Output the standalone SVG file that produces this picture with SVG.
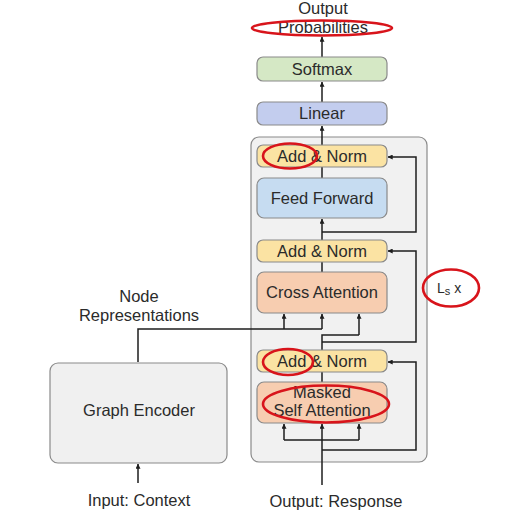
<svg xmlns="http://www.w3.org/2000/svg" width="512" height="512" viewBox="0 0 512 512">
  <style>
    text { font-family: "Liberation Sans", Arial, sans-serif; fill: #2b2b2b; }
    .lbl { font-size: 16.5px; text-anchor: middle; }
    .box { stroke: #8a8a8a; stroke-width: 1.2; }
    .norm { fill: #fbe3a3; }
    .att { fill: #f7cdb0; }
    .wire { fill: none; stroke: #1e1e1e; stroke-width: 1.5; }
    .arr { marker-end: url(#head); }
    .mark { fill: none; stroke: #d8141b; stroke-width: 2.6; }
  </style>
  <defs>
    <marker id="head" viewBox="0 0 8 8" refX="7.5" refY="4" markerWidth="5" markerHeight="5" orient="auto" markerUnits="userSpaceOnUse">
      <path d="M0,0 L8,4 L0,8 Z" fill="#1e1e1e"/>
    </marker>
  </defs>

  <rect width="512" height="512" fill="#ffffff"/>

  <!-- decoder stack container -->
  <g id="decoder-block">
    <rect x="251" y="137" width="176" height="325" rx="8" fill="#f1f1f1" stroke="#8a8a8a" stroke-width="1.2"/>
  </g>

  <!-- connectors -->
  <g id="connectors">
    <!-- main flow -->
    <path class="wire arr" d="M322,485 L322,424"/>
    <path class="wire arr" d="M284,440 L359,440 M284,440 L284,424"/>
    <path class="wire arr" d="M359,440 L359,424"/>
    <path class="wire" d="M322,382 L322,372"/>
    <path class="wire" d="M322,350 L322,335 L359,335"/>
    <path class="wire arr" d="M359,335 L359,314"/>
    <path class="wire" d="M322,272 L322,262"/>
    <path class="wire arr" d="M322,240 L322,219"/>
    <path class="wire" d="M322,178 L322,167"/>
    <path class="wire arr" d="M322,145 L322,126"/>
    <path class="wire arr" d="M322,102 L322,82"/>
    <path class="wire arr" d="M322,57 L322,37"/>
    <!-- node representations into cross attention -->
    <path class="wire" d="M138,362 L138,329 L322,329"/>
    <path class="wire arr" d="M284,329 L284,314"/>
    <path class="wire arr" d="M322,329 L322,314"/>
    <!-- input into graph encoder -->
    <path class="wire arr" d="M138,483 L138,464"/>
    <!-- residual connections -->
    <path class="wire arr" d="M322,450 L416,450 L416,362 L388,362"/>
    <path class="wire arr" d="M322,342 L416,342 L416,251 L388,251"/>
    <path class="wire arr" d="M322,232 L416,232 L416,157 L388,157"/>
  </g>

  <g id="output-probabilities">
    <text class="lbl" x="323" y="14">Output</text>
    <text class="lbl" x="323" y="33">Probabilities</text>
  </g>

  <g id="softmax">
    <rect class="box" x="257" y="57" width="130" height="24" rx="6" fill="#d5e8c5"/>
    <text class="lbl" x="322" y="75">Softmax</text>
  </g>

  <g id="linear">
    <rect class="box" x="257" y="102" width="130" height="23" rx="6" fill="#c3cdee"/>
    <text class="lbl" x="322" y="119">Linear</text>
  </g>

  <g id="add-norm-3">
    <rect class="box norm" x="257" y="145" width="130" height="22" rx="6"/>
    <text class="lbl" x="322" y="162">Add &amp; Norm</text>
  </g>

  <g id="feed-forward">
    <rect class="box" x="257" y="178" width="130" height="40" rx="7" fill="#c6dcf1"/>
    <text class="lbl" x="322" y="204">Feed Forward</text>
  </g>

  <g id="add-norm-2">
    <rect class="box norm" x="257" y="240" width="130" height="22" rx="6"/>
    <text class="lbl" x="322" y="257">Add &amp; Norm</text>
  </g>

  <g id="cross-attention">
    <rect class="box att" x="257" y="272" width="130" height="41" rx="7"/>
    <text class="lbl" x="322" y="298">Cross Attention</text>
  </g>

  <g id="add-norm-1">
    <rect class="box norm" x="257" y="350" width="130" height="22" rx="6"/>
    <text class="lbl" x="322" y="367">Add &amp; Norm</text>
  </g>

  <g id="masked-self-attention">
    <rect class="box att" x="257" y="382" width="130" height="41" rx="7"/>
    <text class="lbl" x="322" y="398">Masked</text>
    <text class="lbl" x="322" y="416">Self Attention</text>
  </g>

  <g id="graph-encoder">
    <rect x="50" y="363" width="177" height="100" rx="8" fill="#f0f0f0" stroke="#8a8a8a" stroke-width="1.2"/>
    <text class="lbl" x="139" y="416">Graph Encoder</text>
  </g>

  <g id="node-representations">
    <text class="lbl" x="139" y="302">Node</text>
    <text class="lbl" x="139" y="321">Representations</text>
  </g>

  <g id="input-context">
    <text class="lbl" x="139" y="506">Input: Context</text>
  </g>

  <g id="output-response">
    <text class="lbl" x="336" y="507">Output: Response</text>
  </g>

  <g id="layer-count">
    <text x="437" y="293" font-size="14">L<tspan font-size="11" dy="1.5">s</tspan><tspan dy="-1.5"> x</tspan></text>
  </g>

  <!-- highlight rings -->
  <g id="highlights">
    <ellipse class="mark" cx="322" cy="28" rx="70" ry="7.5"/>
    <ellipse class="mark" cx="290" cy="156" rx="27" ry="12.5"/>
    <ellipse class="mark" cx="451" cy="288" rx="28" ry="18.5"/>
    <ellipse class="mark" cx="288" cy="362" rx="25" ry="13"/>
    <ellipse class="mark" cx="326" cy="404" rx="63" ry="18.5"/>
  </g>
</svg>
